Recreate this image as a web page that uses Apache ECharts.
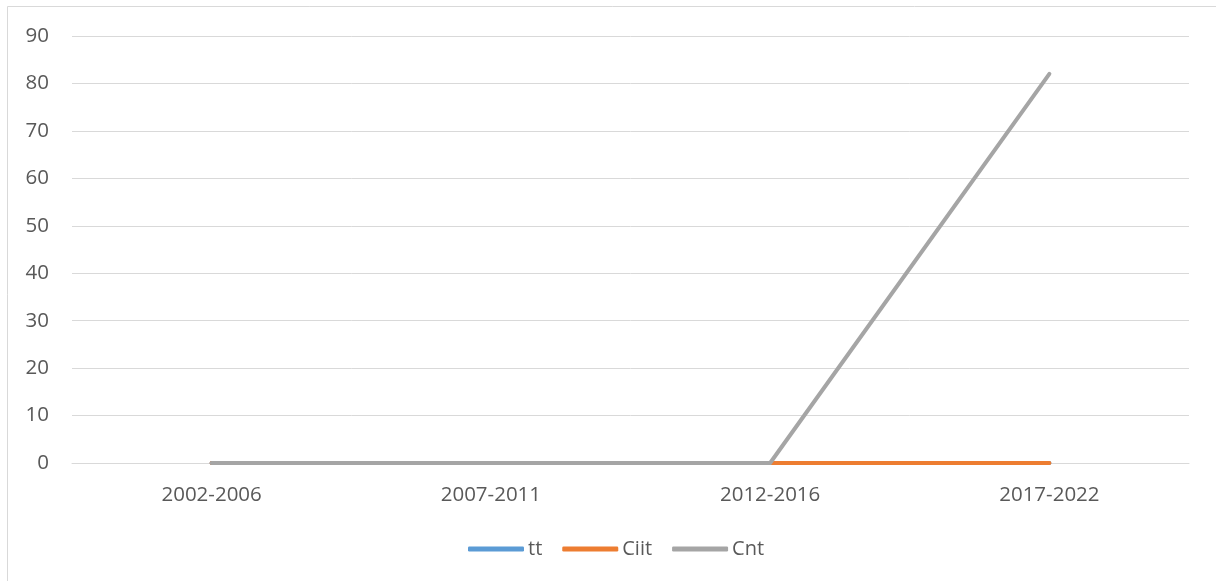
<!DOCTYPE html>
<html>
<head>
<meta charset="utf-8">
<script src="https://cdn.jsdelivr.net/npm/echarts@6/dist/echarts.min.js"></script>
<style>
  html, body { margin: 0; padding: 0; background: #ffffff; }
  #chart { width: 1216px; height: 581px; }
</style>
</head>
<body>
<div id="chart"></div>
<script>
// Periods along the horizontal axis
const categories = ['2002-2006', '2007-2011', '2012-2016', '2017-2022'];

// Series values per period
const ttValues   = [0, 0, 0, 0];
const ciitValues = [0, 0, 0, 0];
const cntValues  = [0, 0, 0, 82];

const seriesNames = ['tt', 'Ciit', 'Cnt'];
const seriesColors = ['#5b9bd5', '#ed7d31', '#a5a5a5'];

const font = '"Open Sans", "Noto Sans", sans-serif';

const chart = echarts.init(document.getElementById('chart'), null, { renderer: 'canvas' });

function lineSeries(name, data, color, z) {
  return {
    name: name,
    type: 'line',
    data: data,
    symbol: 'none',
    z: z,
    lineStyle: { color: color, width: 4, cap: 'round', join: 'round' },
    itemStyle: { color: color },
    emphasis: { disabled: true }
  };
}

chart.setOption({
  animation: false,
  backgroundColor: '#ffffff',
  textStyle: { fontFamily: font },
  graphic: [{
    type: 'rect',
    silent: true,
    shape: { x: 7.5, y: 6.5, width: 1400, height: 800 },
    style: { fill: 'none', stroke: '#d9d9d9', lineWidth: 1 }
  }],
  grid: { left: 72, right: 27, top: 36, bottom: 118, containLabel: false },
  legend: {
    top: 534,
    left: 463,
    itemWidth: 56,
    itemHeight: 5,
    itemGap: 20,
    icon: 'roundRect',
    textStyle: { color: '#595959', fontSize: 20, fontFamily: font, padding: [0, 0, 0, -1] },
    data: seriesNames
  },
  xAxis: {
    type: 'category',
    data: categories,
    boundaryGap: true,
    axisLine: { show: true, lineStyle: { color: '#d9d9d9', width: 1 } },
    axisTick: { show: false },
    axisLabel: { color: '#595959', fontSize: 20.5, margin: 22, fontFamily: font },
    splitLine: { show: false }
  },
  yAxis: {
    type: 'value',
    min: 0,
    max: 90,
    interval: 10,
    axisLine: { show: false },
    axisTick: { show: false },
    axisLabel: { color: '#595959', fontSize: 20.5, margin: 23, fontFamily: font },
    splitLine: { show: true, lineStyle: { color: '#d9d9d9', width: 1 } }
  },
  series: [
    lineSeries(seriesNames[0], ttValues, seriesColors[0], 2),
    lineSeries(seriesNames[1], ciitValues, seriesColors[1], 3),
    lineSeries(seriesNames[2], cntValues, seriesColors[2], 4)
  ]
});
</script>
</body>
</html>
